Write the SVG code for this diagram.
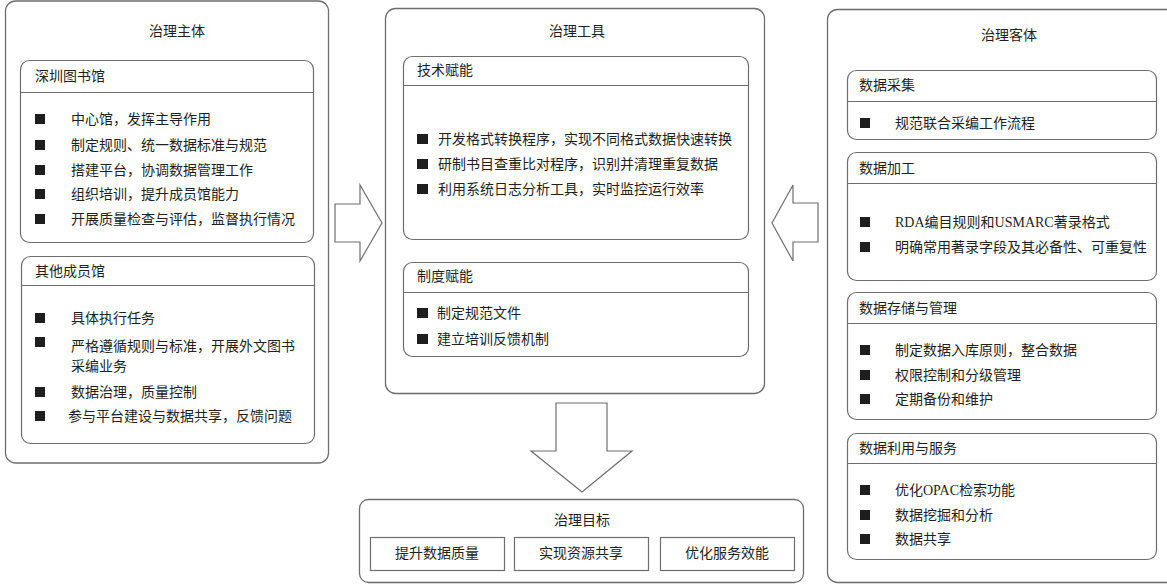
<svg xmlns="http://www.w3.org/2000/svg" width="1167" height="585" viewBox="0 0 1167 585">
<style>
.ob{fill:#fff;stroke:#6e6e6e;stroke-width:1.3}
.ib{fill:#fff;stroke:#6e6e6e;stroke-width:1.2}
.dv{stroke:#6e6e6e;stroke-width:1.2}
.t{font-family:"Liberation Serif","Noto Sans CJK SC",serif;font-size:14px;fill:#231f20;dominant-baseline:central}
.c{text-anchor:middle}
.b{fill:#1e1e1e}
.ar{fill:#fff;stroke:#6e6e6e;stroke-width:1.2;stroke-linejoin:miter}
</style>
<rect width="1167" height="585" fill="#fff"/>

<g id="zhuti">
<rect class="ob" x="5.5" y="1" width="323" height="462" rx="10"/>
<text class="t c" x="177" y="31">治理主体</text>
</g>

<g id="shenzhen">
<rect class="ib" x="20.5" y="60.5" width="293" height="182" rx="9"/>
<line class="dv" x1="20.5" y1="92.5" x2="313.5" y2="92.5"/>
<text class="t" x="35" y="76">深圳图书馆</text>
<rect class="b" x="35" y="114" width="10" height="10"/><text class="t" x="71" y="119">中心馆，发挥主导作用</text>
<rect class="b" x="35" y="140" width="10" height="10"/><text class="t" x="71" y="145">制定规则、统一数据标准与规范</text>
<rect class="b" x="35" y="165" width="10" height="10"/><text class="t" x="71" y="170">搭建平台，协调数据管理工作</text>
<rect class="b" x="35" y="189" width="10" height="10"/><text class="t" x="71" y="194">组织培训，提升成员馆能力</text>
<rect class="b" x="35" y="214" width="10" height="10"/><text class="t" x="71" y="219">开展质量检查与评估，监督执行情况</text>
</g>

<g id="qita">
<rect class="ib" x="21.5" y="256.5" width="293" height="187" rx="9"/>
<line class="dv" x1="21.5" y1="285.5" x2="314.5" y2="285.5"/>
<text class="t" x="35" y="271">其他成员馆</text>
<rect class="b" x="35" y="313" width="10" height="10"/><text class="t" x="71" y="318">具体执行任务</text>
<rect class="b" x="35" y="337" width="10" height="10"/><text class="t" x="71" y="346">严格遵循规则与标准，开展外文图书</text>
<text class="t" x="71" y="366">采编业务</text>
<rect class="b" x="35" y="387" width="10" height="10"/><text class="t" x="71" y="392">数据治理，质量控制</text>
<rect class="b" x="35" y="411" width="10" height="10"/><text class="t" x="68" y="416">参与平台建设与数据共享，反馈问题</text>
</g>

<g id="gongju">
<rect class="ob" x="385.5" y="8.5" width="379" height="385" rx="10"/>
<text class="t c" x="577" y="31">治理工具</text>
</g>

<g id="jishu">
<rect class="ib" x="403.5" y="56.5" width="345" height="183" rx="9"/>
<line class="dv" x1="403.5" y1="85.5" x2="748.5" y2="85.5"/>
<text class="t" x="417" y="70">技术赋能</text>
<rect class="b" x="417" y="134" width="11" height="10"/><text class="t" x="438" y="139">开发格式转换程序，实现不同格式数据快速转换</text>
<rect class="b" x="417" y="159" width="11" height="10"/><text class="t" x="438" y="164">研制书目查重比对程序，识别并清理重复数据</text>
<rect class="b" x="417" y="184" width="11" height="10"/><text class="t" x="438" y="189">利用系统日志分析工具，实时监控运行效率</text>
</g>

<g id="zhidu">
<rect class="ib" x="403.5" y="262.5" width="345" height="94" rx="9"/>
<line class="dv" x1="403.5" y1="292.5" x2="748.5" y2="292.5"/>
<text class="t" x="417" y="276">制度赋能</text>
<rect class="b" x="417" y="308" width="11" height="10"/><text class="t" x="437" y="313">制定规范文件</text>
<rect class="b" x="417" y="334" width="11" height="10"/><text class="t" x="437" y="339">建立培训反馈机制</text>
</g>

<g id="mubiao">
<rect class="ob" x="359.5" y="499.5" width="444" height="83" rx="9"/>
<text class="t c" x="582" y="520">治理目标</text>
<rect class="ib" x="370.5" y="537.5" width="134" height="33" rx="0"/>
<text class="t c" x="437" y="553">提升数据质量</text>
<rect class="ib" x="514.5" y="537.5" width="134" height="33" rx="0"/>
<text class="t c" x="581" y="553">实现资源共享</text>
<rect class="ib" x="660.5" y="537.5" width="134" height="33" rx="0"/>
<text class="t c" x="727" y="553">优化服务效能</text>
</g>

<g id="keti">
<rect class="ob" x="827.5" y="9.5" width="360" height="573" rx="10"/>
<text class="t c" x="1009" y="35">治理客体</text>
</g>

<g id="caiji">
<rect class="ib" x="847.5" y="70.5" width="309" height="69" rx="9"/>
<line class="dv" x1="847.5" y1="101.5" x2="1156.5" y2="101.5"/>
<text class="t" x="859" y="85">数据采集</text>
<rect class="b" x="860" y="118" width="10" height="10"/><text class="t" x="895" y="123">规范联合采编工作流程</text>
</g>

<g id="jiagong">
<rect class="ib" x="847.5" y="152.5" width="309" height="128" rx="9"/>
<line class="dv" x1="847.5" y1="183.5" x2="1156.5" y2="183.5"/>
<text class="t" x="859" y="168">数据加工</text>
<rect class="b" x="860" y="217" width="10" height="10"/><text class="t" x="895" y="222">RDA编目规则和USMARC著录格式</text>
<rect class="b" x="860" y="242" width="10" height="10"/><text class="t" x="895" y="247">明确常用著录字段及其必备性、可重复性</text>
</g>

<g id="cunchu">
<rect class="ib" x="847.5" y="292.5" width="309" height="127" rx="9"/>
<line class="dv" x1="847.5" y1="323.5" x2="1156.5" y2="323.5"/>
<text class="t" x="859" y="308">数据存储与管理</text>
<rect class="b" x="860" y="345" width="10" height="10"/><text class="t" x="895" y="350">制定数据入库原则，整合数据</text>
<rect class="b" x="860" y="370" width="10" height="10"/><text class="t" x="895" y="375">权限控制和分级管理</text>
<rect class="b" x="860" y="394" width="10" height="10"/><text class="t" x="895" y="399">定期备份和维护</text>
</g>

<g id="liyong">
<rect class="ib" x="847.5" y="433.5" width="309" height="126" rx="9"/>
<line class="dv" x1="847.5" y1="463.5" x2="1156.5" y2="463.5"/>
<text class="t" x="859" y="448">数据利用与服务</text>
<rect class="b" x="860" y="485" width="10" height="10"/><text class="t" x="895" y="490">优化OPAC检索功能</text>
<rect class="b" x="860" y="510" width="10" height="10"/><text class="t" x="895" y="515">数据挖掘和分析</text>
<rect class="b" x="860" y="534" width="10" height="10"/><text class="t" x="895" y="539">数据共享</text>
</g>

<g id="connectors">
<polygon class="ar" points="335,204 360,204 360,185 382,223 360,261 360,242 335,242"/>
<polygon class="ar" points="818,203 793,203 793,185 772,223 793,261 793,242 818,242"/>
<polygon class="ar" points="556,403 607,403 607,451 632,451 582,492 531,451 556,451"/>
</g>
</svg>
